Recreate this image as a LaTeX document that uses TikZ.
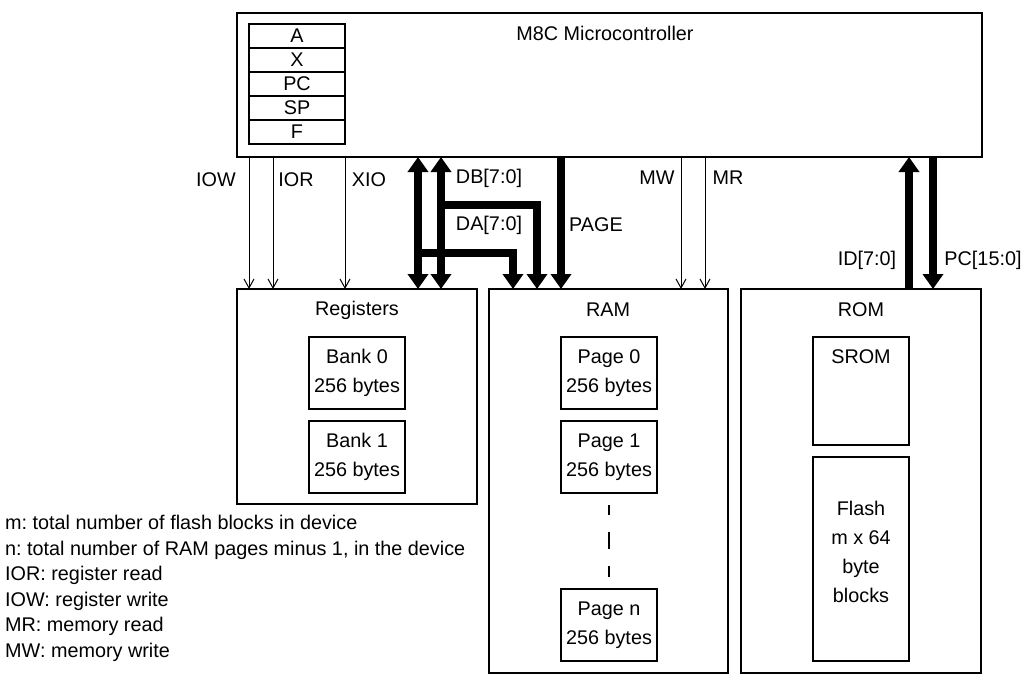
\documentclass[tikz,border=0pt]{standalone}
\usepackage{fontspec}
\setmainfont{Liberation Sans}
\usetikzlibrary{arrows.meta,calc}
\frenchspacing
\tikzset{
  blk/.style={draw, line width=2pt, inner sep=0pt, outer sep=0pt, anchor=north west},
  txt/.style={font=\fontsize{19.8}{29}\selectfont, inner sep=0pt, align=center},
  sig/.style={line width=1pt, -{Straight Barb[width=10pt,length=9pt]}},
  bus/.style={line width=8pt},
  bustip/.tip={Triangle[width=20pt,length=15pt]},
  note/.style={font=\fontsize{19.8}{25.5}\selectfont, inner sep=0pt, align=left, anchor=west}
}

\begin{document}
\begin{tikzpicture}[x=1pt,y=-1pt]
  \useasboundingbox (0,0) rectangle (1022,677);
  % core with its register file
  \node[blk, minimum width=745, minimum height=144] (cpu) at (237,13) {};
  \node[txt] (cpuT) at (605,33) {M8C Microcontroller};
  \foreach \r [count=\i from 0] in {A,X,PC,SP,F}
    \node[blk, txt, minimum width=96, minimum height=24] (r\i) at (249,24+24*\i) {\r};
  % memory blocks
  \node[blk, minimum width=240, minimum height=215] (regs) at (237,289) {};
  \node[blk, minimum width=239, minimum height=384] (ram) at (489,289) {};
  \node[blk, minimum width=240, minimum height=384] (rom) at (741,289) {};
  \node[txt] (regsT) at (357,310) {Registers};
  \node[txt] (ramT) at (608,310) {RAM};
  \node[txt] (romT) at (861,310) {ROM};
  \node[blk, txt, minimum width=96, minimum height=72] (bank0) at (309,337) {Bank 0\\256 bytes};
  \node[blk, txt, minimum width=96, minimum height=72] (bank1) at (309,421) {Bank 1\\256 bytes};
  \node[blk, txt, minimum width=96, minimum height=72] (page0) at (561,337) {Page 0\\256 bytes};
  \node[blk, txt, minimum width=96, minimum height=72] (page1) at (561,421) {Page 1\\256 bytes};
  \node[blk, txt, minimum width=96, minimum height=72] (pagen) at (561,589) {Page n\\256 bytes};
  \draw[line width=2pt, dash pattern=on 17pt off 17pt, dash phase=7pt, shorten <=12pt, shorten >=12pt] (page1.south) -- (pagen.north);
  \node[blk, minimum width=96, minimum height=108] (srom) at (813,337) {};
  \node[txt] (sromT) at (861,357) {SROM};
  \node[blk, minimum width=96, minimum height=204] (flash) at (813,457) {};
  \node[txt] (flashT) at ($(flash.center)+(0,-7)$) {Flash\\m x 64\\byte\\blocks};
  % control lines
  \foreach \x/\name in {249/iow,273/ior,345/xio,681/mw,705/mr}
    \coordinate (\name) at (\x,0);
  \foreach \name in {iow,ior,xio}
    \draw[sig] (\name |- cpu.south) -- (\name |- regs.north);
  \foreach \name in {mw,mr}
    \draw[sig] (\name |- cpu.south) -- (\name |- ram.north);
  \node[txt] (iowT) at (216,180) {IOW};
  \node[txt] (iorT) at (296,180) {IOR};
  \node[txt] (xioT) at (369,180) {XIO};
  \node[txt] (mwT) at (657,178) {MW};
  \node[txt] (mrT) at (728,178) {MR};
  % buses
  \coordinate (da) at (418,253);
  \coordinate (db) at (441,205);
  \coordinate (dar) at (513,0);
  \coordinate (dbr) at (537,0);
  \coordinate (pg) at (561,0);
  \coordinate (id) at (909,0);
  \coordinate (pcb) at (933,0);
  \draw[bus, bustip-bustip] (da |- cpu.south) -- (da |- regs.north);
  \draw[bus, bustip-bustip] (db |- cpu.south) -- (db |- regs.north);
  \draw[bus, -bustip] (da) -| (dar |- ram.north);
  \draw[bus, -bustip] (db) -| (dbr |- ram.north);
  \draw[bus, -bustip] (pg |- cpu.south) -- (pg |- ram.north);
  \draw[bus, -bustip] (id |- rom.north) -- (id |- cpu.south);
  \draw[bus, -bustip] (pcb |- cpu.south) -- (pcb |- rom.north);
  \node[txt] (dbT) at (489,178) {DB[7:0]};
  \node[txt] (daT) at (489,225) {DA[7:0]};
  \node[txt] (pgT) at (596,225) {PAGE};
  \node[txt] (idT) at (867,260) {ID[7:0]};
  \node[txt] (pcT) at (983,260) {PC[15:0]};
  % legend
  \node[note] (legend) at (5,588.5) {m: total number of flash blocks in device\\n: total number of RAM pages minus 1, in the device\\IOR: register read\\IOW: register write\\MR: memory read\\MW: memory write};
\end{tikzpicture}
\end{document}
